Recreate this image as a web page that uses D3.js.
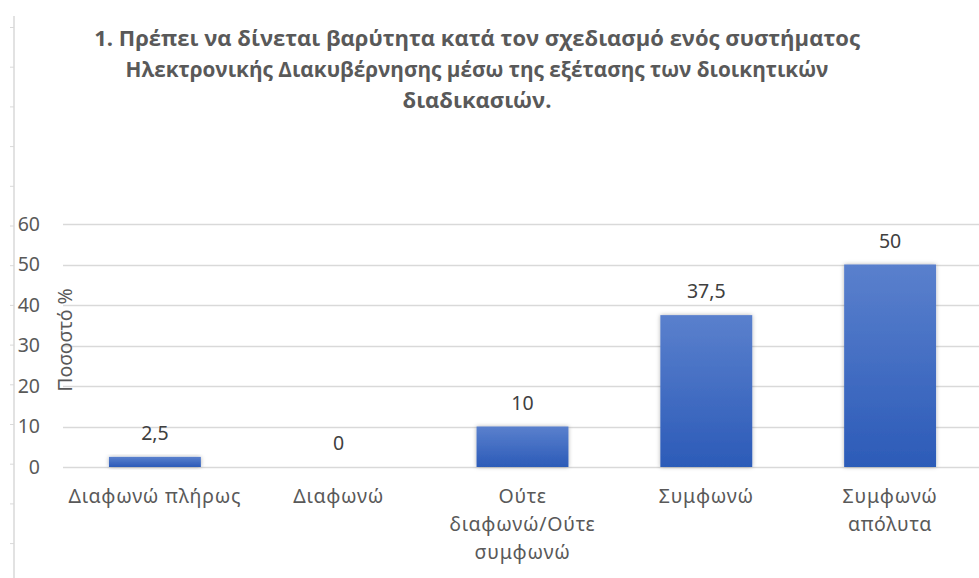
<!DOCTYPE html>
<html>
<head>
<meta charset="utf-8">
<script src="https://cdn.jsdelivr.net/npm/d3@7"></script>
<style>
  html, body { margin: 0; padding: 0; background: #fff; }
  svg { display: block; }
</style>
</head>
<body>
<svg id="chart" width="979" height="578"></svg>
<script>
// Survey answers for question 1 (percent of respondents)
const categories = ["Διαφωνώ πλήρως", "Διαφωνώ", "Ούτε διαφωνώ/Ούτε συμφωνώ", "Συμφωνώ", "Συμφωνώ απόλυτα"];
const categoryLines = [["Διαφωνώ πλήρως"], ["Διαφωνώ"], ["Ούτε", "διαφωνώ/Ούτε", "συμφωνώ"], ["Συμφωνώ"], ["Συμφωνώ", "απόλυτα"]];
const values = [2.5, 0, 10, 37.5, 50];
const valueLabels = ["2,5", "0", "10", "37,5", "50"];
const yTicks = [0, 10, 20, 30, 40, 50, 60];
const titleLines = [
  "1. Πρέπει να δίνεται βαρύτητα κατά τον σχεδιασμό ενός συστήματος",
  "Ηλεκτρονικής Διακυβέρνησης μέσω της εξέτασης των διοικητικών",
  "διαδικασιών."
];
const yTitle = "Ποσοστό %";

const svg = d3.select("#chart");
const W = 979, H = 578;
const textColor = "#595959";
const gridColor = "#d9d9d9";
const labelFont = "'Noto Sans', 'Open Sans', sans-serif";
const labelSize = "19.5px";

// Plot area
const plot = { left: 63, right: 982, top: 224, bottom: 467 };

const x = d3.scaleBand().domain(categories).range([plot.left, plot.right]).paddingInner(0.5).paddingOuter(0.25);
const y = d3.scaleLinear().domain([0, 60]).range([plot.bottom, plot.top]);

// Bar fill and soft shadow
const defs = svg.append("defs");
const grad = defs.append("linearGradient").attr("id", "barFill").attr("x1", 0).attr("y1", 0).attr("x2", 0).attr("y2", 1);
grad.append("stop").attr("offset", "0%").attr("stop-color", "#5a80cd");
grad.append("stop").attr("offset", "100%").attr("stop-color", "#2c5bb8");
const shadow = defs.append("filter").attr("id", "barShadow").attr("x", "-20%").attr("y", "-20%").attr("width", "140%").attr("height", "140%");
shadow.append("feDropShadow").attr("dx", 0).attr("dy", 0).attr("stdDeviation", 2).attr("flood-color", "#000").attr("flood-opacity", 0.3);

// Page ruler along the left edge
const ruler = d3.scaleLinear().domain([0, 14]).range([27, 27 + 14 * 39.7]);
const rulerG = svg.append("g").attr("transform", "translate(14,0)")
  .call(d3.axisLeft(ruler).ticks(14).tickSize(4).tickFormat(""));
rulerG.select(".domain").remove();
rulerG.selectAll("line").attr("stroke", gridColor);
svg.append("line").attr("x1", 14).attr("x2", 14).attr("y1", 16).attr("y2", H)
  .attr("stroke", gridColor).attr("stroke-width", 1.5);

// Gridlines
svg.append("g").selectAll("line").data(yTicks).join("line")
  .attr("x1", plot.left).attr("x2", W)
  .attr("y1", d => Math.round(y(d)) + 0.5).attr("y2", d => Math.round(y(d)) + 0.5)
  .attr("stroke", gridColor).attr("stroke-width", 1.3);

// Y tick labels
const yAxis = svg.append("g").attr("transform", `translate(${40},0)`)
  .call(d3.axisLeft(y).tickValues(yTicks).tickSize(0).tickPadding(0));
yAxis.select(".domain").remove();
yAxis.selectAll("text").attr("fill", textColor).style("font-family", labelFont).style("font-size", labelSize);

// Y axis title
svg.append("text")
  .attr("transform", "translate(72,340) rotate(-90)")
  .attr("text-anchor", "middle")
  .attr("fill", textColor)
  .style("font-family", labelFont).style("font-size", "19.5px")
  .text(yTitle);

// Bars
svg.append("g").selectAll("rect").data(values).join("rect")
  .attr("x", (d, i) => x(categories[i]))
  .attr("width", x.bandwidth())
  .attr("y", d => y(d))
  .attr("height", d => y(0) - y(d))
  .attr("fill", "url(#barFill)")
  .attr("filter", "url(#barShadow)");

// Value labels
svg.append("g").selectAll("text").data(values).join("text")
  .attr("x", (d, i) => x(categories[i]) + x.bandwidth() / 2)
  .attr("y", d => y(d) - 17)
  .attr("text-anchor", "middle")
  .attr("fill", "#404040")
  .style("font-family", labelFont).style("font-size", labelSize)
  .text((d, i) => valueLabels[i]);

// Category labels
const catG = svg.append("g").selectAll("text").data(categories).join("text")
  .attr("x", d => x(d) + x.bandwidth() / 2)
  .attr("y", 503)
  .attr("text-anchor", "middle")
  .attr("fill", textColor)
  .style("font-family", labelFont).style("font-size", labelSize)
  .style("letter-spacing", "0.8px");
catG.selectAll("tspan").data((d, i) => categoryLines[i]).join("tspan")
  .attr("x", function () { return d3.select(this.parentNode).attr("x"); })
  .attr("dy", (d, j) => j === 0 ? 0 : 28)
  .text(d => d);

// Title: bold face condensed line by line to a narrow set width
const titleWidths = [766, 703, 149];
const titleG = svg.append("g").attr("transform", "translate(477,0)");
titleG.selectAll("text").data(titleLines).join("text")
  .attr("x", 0)
  .attr("y", (d, i) => 46 + i * 31)
  .attr("text-anchor", "middle")
  .attr("fill", textColor)
  .style("font-family", "'Open Sans', sans-serif").style("font-weight", "bold").style("font-size", "21px")
  .text(d => d)
  .each(function (d, i) {
    const w = this.getComputedTextLength();
    const k = titleWidths[i] / w;
    const yy = +d3.select(this).attr("y");
    d3.select(this).attr("transform", `scale(${k},1)`);
  });
</script>
</body>
</html>
